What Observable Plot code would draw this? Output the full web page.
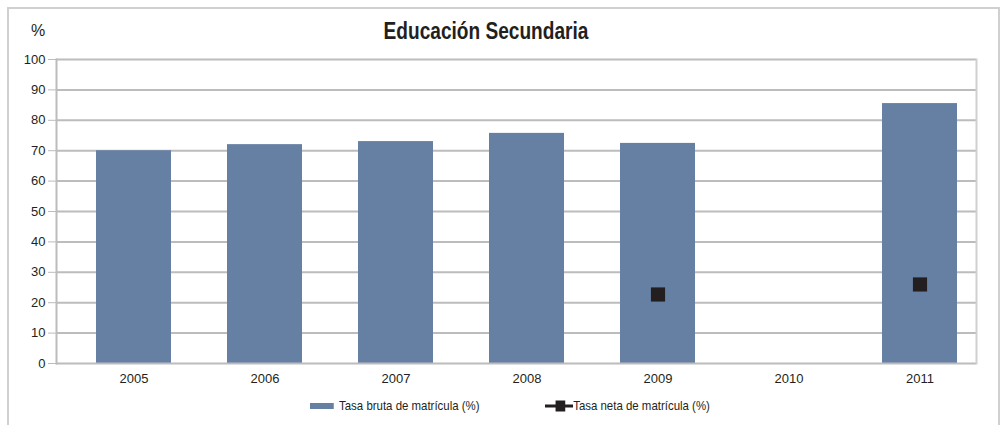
<!DOCTYPE html>
<html><head><meta charset="utf-8">
<script src="https://cdn.jsdelivr.net/npm/d3@7"></script>
<script src="https://cdn.jsdelivr.net/npm/@observablehq/plot@0.6"></script>
<style>
body{margin:0;background:#fff;}
#wrap{position:relative;width:1003px;height:425px;overflow:hidden;font-family:"Liberation Sans","Helvetica",sans-serif;color:#231f20;}
#border{position:absolute;left:7px;top:7px;width:993px;height:440px;border:2px solid #d0d0d0;box-sizing:border-box;}
#title{position:absolute;left:0;width:972px;text-align:center;top:18px;font-size:23px;font-weight:bold;transform:scaleX(0.83);transform-origin:486px 0;}
#pct{position:absolute;left:31px;top:22px;font-size:16px;}
#chart{position:absolute;left:0;top:0;}
.leg{position:absolute;top:398px;font-size:13px;display:flex;align-items:center;transform:scaleX(0.88);transform-origin:0 0;white-space:nowrap;}
</style></head>
<body><div id="wrap">
<div id="border"></div>
<div id="chart"></div>
<div id="title">Educación Secundaria</div>
<div id="pct">%</div>
<div class="leg" style="left:310px"><span style="display:inline-block;width:27px;height:6px;background:#6680a4;margin-right:6px"></span>Tasa bruta de matrícula (%)</div>
<div class="leg" style="left:545px"><svg width="32" height="14"><line x1="0" x2="32" y1="7" y2="7" stroke="#231f20" stroke-width="3"/><rect x="12" y="1.5" width="11" height="11" fill="#231f20"/></svg>Tasa neta de matrícula (%)</div>
</div>
<script>
const years = ["2005","2006","2007","2008","2009","2010","2011"];
const bruta = [70.0, 72.0, 73.0, 75.7, 72.4, null, 85.5];
const neta = [null, null, null, null, 22.7, null, 26.0];
const yTicks = [0,10,20,30,40,50,60,70,80,90,100];

const barData = years.map((y,i)=>({year:y, v:bruta[i]})).filter(d=>d.v!=null);
const dotData = years.map((y,i)=>({year:y, v:neta[i]})).filter(d=>d.v!=null);

const chart = Plot.plot({
  width:1003, height:425,
  marginLeft:56, marginRight:27, marginTop:59, marginBottom:62,
  style:{fontFamily:'"Liberation Sans",sans-serif', fontSize:"13px", color:"#231f20", background:"transparent"},
  x:{domain:years, paddingInner:0.43, paddingOuter:0.21, align:0.68, label:null},
  y:{domain:[0,100], label:null},
  marks:[
    Plot.ruleY(yTicks.slice(1), {stroke:"#bcbcbe", strokeWidth:2, strokeOpacity:1}),
    Plot.barY(barData, {x:"year", y:"v", fill:"#6680a4"}),
    Plot.dot(dotData, {x:"year", y:"v", symbol:"square", r:8, fill:"#231f20", stroke:"none"}),
    Plot.axisY({ticks:yTicks, tickSize:8, tickPadding:3, stroke:"#bcbcbe", label:null, fontSize:13}),
    Plot.axisX({tickSize:0, tickPadding:10, label:null, fontSize:13}),
    Plot.ruleY([0], {stroke:"#bcbcbe", strokeWidth:2}),
    Plot.frame({anchor:"left", stroke:"#bcbcbe", strokeWidth:2}),
    Plot.frame({anchor:"right", stroke:"#d0d0d0", strokeWidth:2})
  ]
});
document.getElementById("chart").appendChild(chart);
</script>
</body></html>
